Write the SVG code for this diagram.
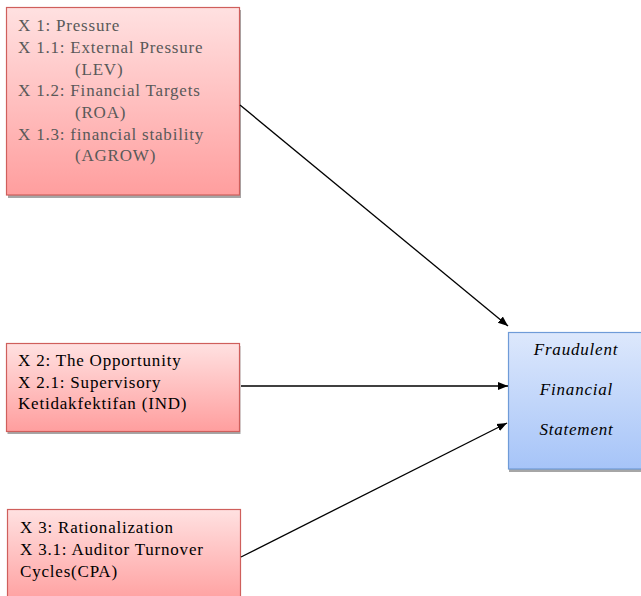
<svg xmlns="http://www.w3.org/2000/svg" width="641" height="596" viewBox="0 0 641 596">
<style>
.t{font-family:"Liberation Serif","Times New Roman",serif;font-size:17px;letter-spacing:0.8px;fill:#000}
.g{fill:#595959}
.it{font-style:italic;text-anchor:middle}
.pink{fill:url(#pg);stroke:#cf5f5c;stroke-width:1.2}
.blue{fill:url(#bg);stroke:#6f9bd8;stroke-width:1.2}
.sh{fill:#a6a6a6}
.c{stroke:#000;stroke-width:1.3;fill:none;marker-end:url(#ah)}
</style>
<defs>
<linearGradient id="pg" x1="0" y1="0" x2="0" y2="1">
<stop offset="0" stop-color="#ffe1e1"/>
<stop offset="1" stop-color="#ff9e9e"/>
</linearGradient>
<linearGradient id="bg" x1="0" y1="0" x2="0" y2="1">
<stop offset="0" stop-color="#dde8fc"/>
<stop offset="1" stop-color="#a6c4f8"/>
</linearGradient>
<marker id="ah" viewBox="0 0 10 10" refX="10" refY="5" markerWidth="10" markerHeight="10" markerUnits="userSpaceOnUse" orient="auto">
<path d="M0,1 L10,5 L0,9 Z" fill="#000"/>
</marker>
</defs>
<rect width="641" height="596" fill="#fff"/>
<g id="n1">
<rect class="sh" x="8" y="10" width="233" height="188"/>
<rect class="pink" x="6.5" y="7.5" width="233" height="187.5"/>
<text class="t g" x="18" y="31">X 1: Pressure</text>
<text class="t g" x="18" y="53">X 1.1: External Pressure</text>
<text class="t g" x="75" y="75">(LEV)</text>
<text class="t g" x="18" y="96">X 1.2: Financial Targets</text>
<text class="t g" x="75" y="118">(ROA)</text>
<text class="t g" x="18" y="140">X 1.3: financial stability</text>
<text class="t g" x="75" y="161">(AGROW)</text>
</g>
<g id="n2">
<rect class="sh" x="7.5" y="346" width="233" height="88"/>
<rect class="pink" x="6.5" y="343.5" width="233" height="88"/>
<text class="t" x="18" y="366">X 2: The Opportunity</text>
<text class="t" x="18" y="387.5">X 2.1: Supervisory</text>
<text class="t" x="18" y="409">Ketidakfektifan (IND)</text>
</g>
<g id="n3">
<rect class="pink" x="7.5" y="509.5" width="233" height="95"/>
<text class="t" x="20" y="533">X 3: Rationalization</text>
<text class="t" x="20" y="555">X 3.1: Auditor Turnover</text>
<text class="t" x="20" y="577">Cycles(CPA)</text>
</g>
<g id="n4">
<rect class="sh" x="509" y="335" width="140" height="137"/>
<rect class="blue" x="508.5" y="332.5" width="140" height="136.5"/>
<text class="t it" x="576" y="355">Fraudulent</text>
<text class="t it" x="576.5" y="395">Financial</text>
<text class="t it" x="576.5" y="435">Statement</text>
</g>
<g id="connectors">
<line class="c" x1="240" y1="105" x2="508" y2="326"/>
<line class="c" x1="241" y1="386" x2="508" y2="386"/>
<line class="c" x1="241" y1="557" x2="507" y2="423"/>
</g>
</svg>
